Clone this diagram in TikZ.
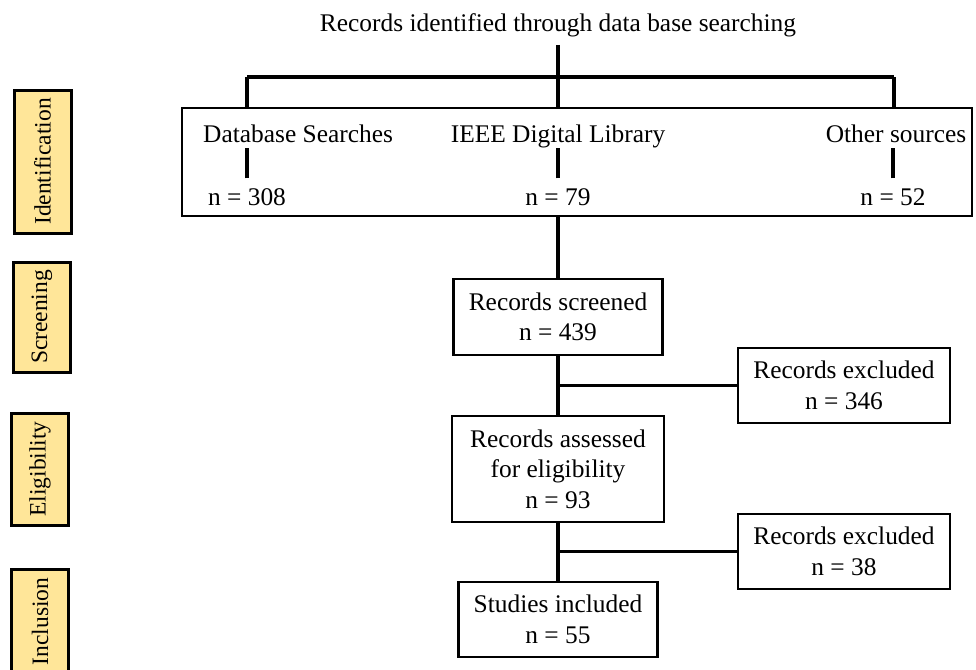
\documentclass[tikz,border=0pt]{standalone}
\usepackage{fontspec}
\setmainfont{Liberation Serif}
\usetikzlibrary{positioning}
\definecolor{phasefill}{HTML}{FFE699}

\begin{document}
\begin{tikzpicture}[
x=1pt,y=-1pt,
every node/.style={font=\fontsize{25.4}{30.5}\selectfont, inner sep=0pt},
box/.style={draw, line width=2.1pt, align=center},
count/.style={inner sep=9.5pt},
phase/.style={draw, line width=3pt, fill=phasefill, rotate=90, minimum height=57, font=\fontsize{23.5}{28}\selectfont},
link/.style={line width=3.1pt},
]
	\useasboundingbox (0,0) rectangle (976,669);
	% phases on the left
	\node[phase, minimum width=143] (ident) at (42.5,161.5) {Identification};
	\node[phase, minimum width=110] (screen) at (42,317) {Screening};
	\node[phase, minimum width=112] (elig) at (40,469) {Eligibility};
	\node[phase, minimum width=105] (incl) at (40,621.5) {Inclusion};

	\node[anchor=base] (title) at (558,32) {Records identified through data base searching}; %root
	\coordinate (drop) at (558,45);
	\coordinate (jl) at (247,77);
	\coordinate (jc) at (558,77);
	\coordinate (jr) at (894,77);

	% sources
	\node[box, minimum width=790, minimum height=108] (idbox) at (577,162) {};
	\node[anchor=base west] (dbs) at (203,142) {Database Searches};
	\node[anchor=base] (ieee) at (558,142) {IEEE Digital Library};
	\node[anchor=base] (oth) at (896,142) {Other sources};
	\node[count, anchor=base] (dbn) at (247,205) {n = 308};
	\node[count, anchor=base] (ieeen) at (558,205) {n = 79};
	\node[count, anchor=base] (othn) at (893,205) {n = 52};

	% flow
	\node[box, minimum width=209, minimum height=76] (scr) at (558,317) {Records screened\\n = 439};
	\node[box, minimum width=212, minimum height=75] (ex1) at (844,385.5) {Records excluded\\n = 346};
	\node[box, minimum width=212, minimum height=106] (ass) at (558,469) {Records assessed\\for eligibility\\n = 93};
	\node[box, minimum width=212, minimum height=75] (ex2) at (844,551.5) {Records excluded\\n = 38};
	\node[box, minimum width=199, minimum height=75] (stu) at (558,619.5) {Studies included\\n = 55};

	\draw[link] (drop) -- (jc);
	\draw[link] (jl) -- (jr);
	\draw[link] (jl) -- (jl |- idbox.north);
	\draw[link] (jc) -- (jc |- idbox.north);
	\draw[link] (jr) -- (jr |- idbox.north);
	\draw[link] (dbn.north) -- ++(0,-30);
	\draw[link] (ieeen.north) -- ++(0,-30);
	\draw[link] (othn.north) -- ++(0,-30);
	\draw[link] (scr.north |- idbox.south) -- (scr.north);
	\draw[link] (scr.south) -- (ass.north);
	\draw[link] (ex1.west -| scr.south) -- (ex1.west);
	\draw[link] (ass.south) -- (stu.north);
	\draw[link] (ex2.west -| ass.south) -- (ex2.west);
\end{tikzpicture}
\end{document}
